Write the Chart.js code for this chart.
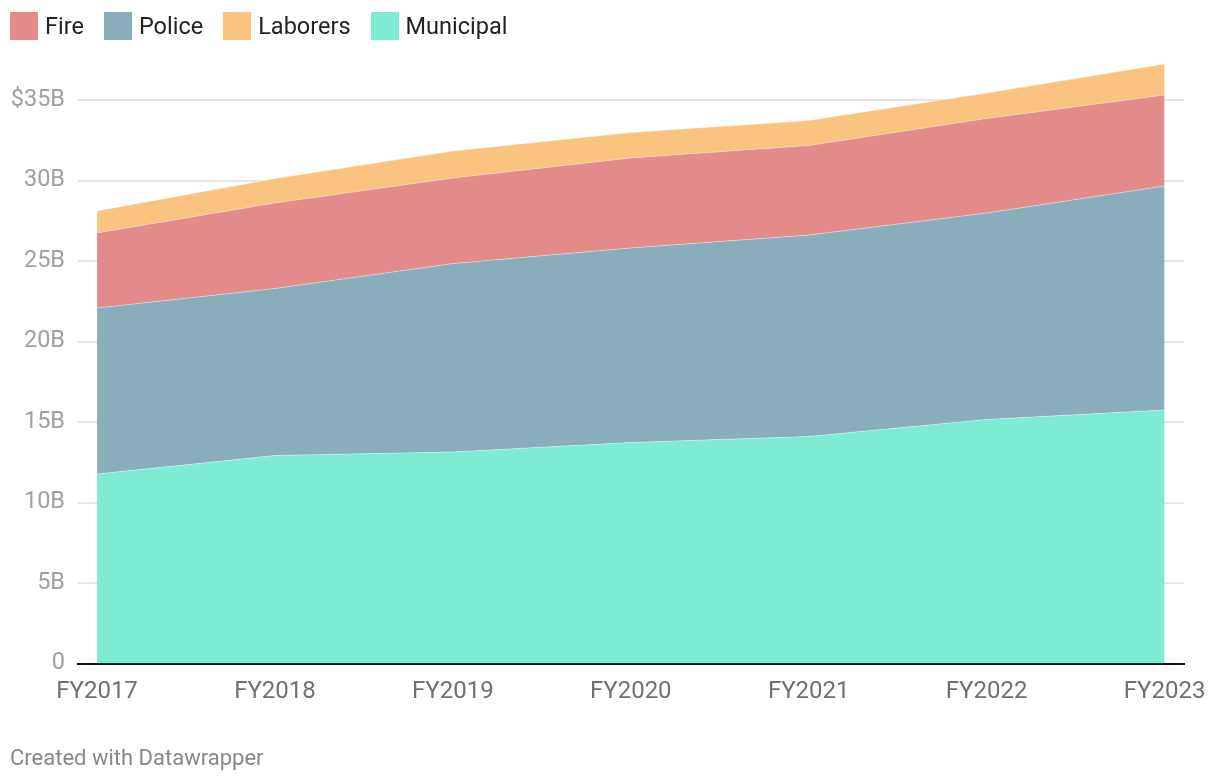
<!DOCTYPE html>
<html>
<head>
<meta charset="utf-8">
<script src="https://cdn.jsdelivr.net/npm/chart.js@4.4.0/dist/chart.umd.min.js"></script>
<style>
  html, body { margin: 0; padding: 0; background: #fff; }
  body { width: 1220px; height: 780px; position: relative; overflow: hidden; font-family: Roboto, sans-serif; }
  #wrap { position: absolute; left: 0; top: 0; width: 1220px; height: 780px; }
  #legend { position: absolute; left: 10px; top: 12px; display: flex; font-size: 23.5px; color: #222; }
  .item { display: flex; align-items: center; margin-right: 20px; }
  .box { width: 28px; height: 28px; margin-right: 7px; }
  #footer { position: absolute; left: 10px; top: 745px; font-size: 22px; color: #888; }
</style>
</head>
<body>
<div id="wrap"><canvas id="chart" width="1220" height="780"></canvas></div>
<div id="legend"></div>
<div id="footer">Created with Datawrapper</div>
<script>
// fiscal years on the x axis
const years = ["FY2017", "FY2018", "FY2019", "FY2020", "FY2021", "FY2022", "FY2023"];

// pension costs, $ billions (stacked bottom to top)
const municipal = [11.77, 12.92, 13.14, 13.73, 14.10, 15.16, 15.75];
const police    = [10.31, 10.37, 11.70, 12.08, 12.51, 12.82, 13.91];
const fire      = [4.66, 5.31, 5.31, 5.59, 5.56, 5.87, 5.65];
const laborers  = [1.37, 1.52, 1.68, 1.58, 1.56, 1.58, 1.93];

const yTicks = [0, 5, 10, 15, 20, 25, 30, 35];

const colors = {
    Fire: "#e28b8a",
    Police: "#8aadbc",
    Laborers: "#fac480",
    Municipal: "#7eecd2"
};

// legend, in the order the original shows it
const legendOrder = ["Fire", "Police", "Laborers", "Municipal"];
const legendEl = document.getElementById("legend");
legendOrder.forEach(function (name) {
    const item = document.createElement("div");
    item.className = "item";
    item.innerHTML = '<span class="box" style="background:' + colors[name] + '"></span>' + name;
    legendEl.appendChild(item);
});

function toPoints(values) {
    return values.map(function (v, i) { return { x: i, y: v }; });
}

function area(label, values, fill) {
    return {
        label: label,
        data: toPoints(values),
        backgroundColor: colors[label],
        borderColor: "rgba(255,255,255,0.35)",
        borderWidth: 1,
        pointRadius: 0,
        tension: 0,
        fill: fill
    };
}

new Chart(document.getElementById("chart"), {
    type: "line",
    data: {
        datasets: [
            area("Municipal", municipal, "origin"),
            area("Police", police, "-1"),
            area("Fire", fire, "-1"),
            area("Laborers", laborers, "-1")
        ]
    },
    options: {
        responsive: false,
        animation: false,
        layout: { padding: { top: 51.7, right: 35, bottom: 56.5, left: 0 } },
        plugins: {
            legend: { display: false },
            tooltip: { enabled: false }
        },
        scales: {
            x: {
                type: "linear",
                min: -0.107,
                max: 6.112,
                z: 1,
                afterBuildTicks: function (scale) {
                    scale.ticks = years.map(function (_, i) { return { value: i }; });
                },
                afterFit: function (scale) { scale.height = 60; },
                grid: { display: false, drawTicks: false },
                border: { display: true, color: "#111", width: 2 },
                ticks: {
                    padding: 14,
                    maxRotation: 0,
                    autoSkip: false,
                    color: "#707070",
                    font: { family: "Roboto", size: 24 },
                    callback: function (v) { return years[v]; }
                }
            },
            y: {
                stacked: true,
                min: 0,
                max: 38,
                z: 1,
                afterBuildTicks: function (scale) {
                    scale.ticks = yTicks.map(function (v) { return { value: v }; });
                },
                afterFit: function (scale) { scale.width = 78; },
                grid: { color: "rgba(0,0,0,0.1)", lineWidth: 2, drawTicks: false },
                border: { display: false },
                ticks: {
                    padding: 13,
                    color: "#a0a0a0",
                    font: { family: "Roboto", size: 23.5 },
                    callback: function (v) {
                        if (v === 0) return "0";
                        return (v === 35 ? "$" : "") + v + "B";
                    }
                }
            }
        }
    }
});
</script>
</body>
</html>
